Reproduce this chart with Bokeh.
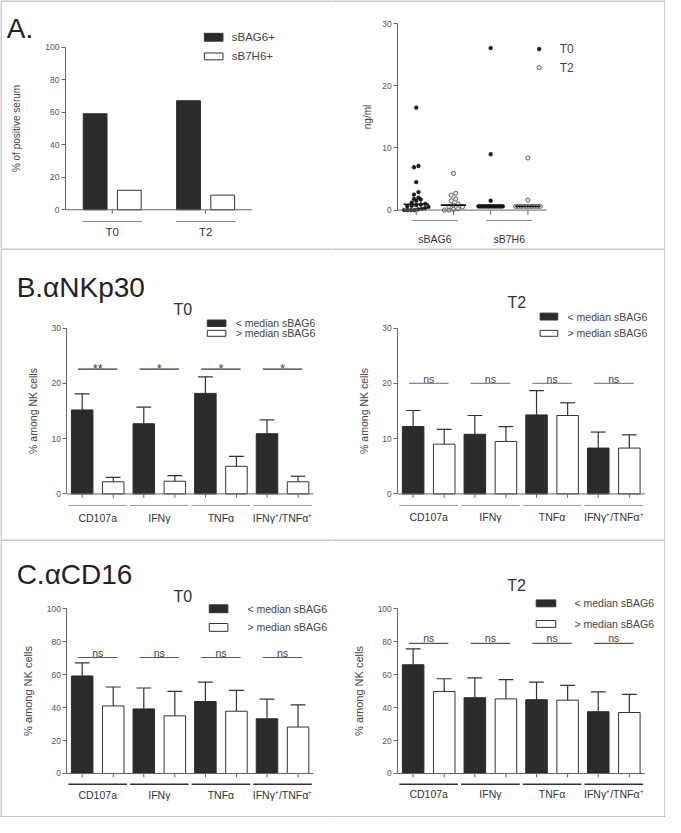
from bokeh.plotting import figure
from bokeh.layouts import column, row
from bokeh.models import Range1d, FixedTicker
from bokeh.core.properties import value
from bokeh.embed import file_html
from bokeh.resources import INLINE
import numpy as np

FONT = "Liberation Sans"
DARK = "#2b2b2b"
AX = "#666666"

# ---------------- data ----------------
a_groups = ["T0", "T2"]
a_series = ["sBAG6+", "sB7H6+"]
a_sbag6_pos = [59, 67]
a_sb7h6_pos = [12, 9]

sc_groups = ["sBAG6", "sB7H6"]
sc_series = ["T0", "T2"]
sbag6_t0 = [16.5, 7.1, 6.9, 4.5, 2.9, 2.5, 2.0, 1.8, 1.7, 1.5, 1.2, 1.0,
            0.9, 0.8, 0.7, 0.6, 0.5, 0.3, 0.2, 0.1, 0.0, 0.0, 0.0, 0.0]
sbag6_t2 = [5.9, 2.7, 2.4, 1.8, 1.5, 1.0, 0.8, 0.6, 0.5, 0.2, 0.1, 0.0, 0.0]
sb7h6_t0 = [26.1, 9.0, 1.5, 0.6, 0.6, 0.6, 0.6, 0.6, 0.6, 0.6, 0.6, 0.6, 0.6,
            0.6, 0.6, 0.6, 0.6, 0.6, 0.6, 0.6, 0.6, 0.6, 0.6, 0.6]
sb7h6_t2 = [8.4, 1.6, 0.6, 0.6, 0.6, 0.6, 0.6, 0.6, 0.6, 0.6, 0.6, 0.6]

markers = ["CD107a", "IFNγ", "TNFα", "IFNγ⁺/TNFα⁺"]
bar_series = ["< median sBAG6", "> median sBAG6"]

nkp30_t0_low = [15.2, 12.7, 18.2, 10.9]
nkp30_t0_low_sem = [2.9, 3.0, 3.0, 2.5]
nkp30_t0_high = [2.2, 2.3, 5.0, 2.2]
nkp30_t0_high_sem = [0.8, 1.0, 1.8, 1.0]
nkp30_t0_sig = ["**", "*", "*", "*"]

nkp30_t2_low = [12.2, 10.8, 14.3, 8.3]
nkp30_t2_low_sem = [2.9, 3.4, 4.4, 2.9]
nkp30_t2_high = [9.0, 9.5, 14.2, 8.3]
nkp30_t2_high_sem = [2.7, 2.7, 2.3, 2.4]
nkp30_t2_sig = ["ns", "ns", "ns", "ns"]

cd16_t0_low = [59.2, 39.2, 43.7, 33.2]
cd16_t0_low_sem = [8.0, 12.7, 11.8, 11.9]
cd16_t0_high = [41.0, 35.0, 37.8, 28.2]
cd16_t0_high_sem = [11.5, 14.9, 12.7, 13.4]
cd16_t0_sig = ["ns", "ns", "ns", "ns"]

cd16_t2_low = [66.0, 46.0, 44.8, 37.5]
cd16_t2_low_sem = [9.7, 12.0, 10.7, 12.0]
cd16_t2_high = [49.8, 45.3, 44.5, 37.0]
cd16_t2_high_sem = [7.7, 11.7, 9.0, 11.0]
cd16_t2_sig = ["ns", "ns", "ns", "ns"]


# ---------------- helpers ----------------
def lin(a, b):
    (va, pa), (vb, pb) = a, b
    k = (vb - va) / (pb - pa)
    return lambda q: va + (q - pa) * k


def make_fig(w, h, ext_x, ext_y, xa, xb, ya, yb, axis_x, ybounds, yticks,
             ylabel, ylabel_size, standoff):
    fx = lin(xa, xb)
    fy = lin(ya, yb)
    p = figure(width=w, height=h,
               x_range=Range1d(fx(ext_x[0]), fx(ext_x[1])),
               y_range=Range1d(fy(ext_y[1]), fy(ext_y[0])),
               output_backend="svg", toolbar_location=None,
               x_axis_location=None, y_axis_location="left",
               min_border=0)
    p.min_border_left = p.min_border_right = 0
    p.min_border_top = p.min_border_bottom = 0
    p.outline_line_color = None
    p.grid.visible = False
    p.background_fill_color = "white"
    p.border_fill_color = "white"
    ax = p.yaxis[0]
    ax.fixed_location = axis_x
    ax.bounds = ybounds
    ax.ticker = FixedTicker(ticks=yticks)
    ax.minor_tick_line_color = None
    ax.major_tick_in = 0
    ax.major_tick_out = 4
    ax.axis_line_color = AX
    ax.major_tick_line_color = AX
    ax.major_label_text_font = FONT
    ax.major_label_text_font_size = "8.5px"
    ax.major_label_text_color = "#555555"
    ax.major_label_standoff = 2
    ax.axis_label = ylabel
    ax.axis_label_text_font = FONT
    ax.axis_label_text_font_size = ylabel_size
    ax.axis_label_text_font_style = "normal"
    ax.axis_label_text_color = "#444444"
    ax.axis_label_standoff = standoff
    scale_x = (ext_x[1] - ext_x[0]) / w
    scale_y = (ext_y[1] - ext_y[0]) / h
    geo = dict(fx=fx, fy=fy, ext_x=ext_x, ext_y=ext_y, sx=scale_x, sy=scale_y)
    return p, geo


def borders(p, g, sides):
    fx, fy, ex, ey = g["fx"], g["fy"], g["ext_x"], g["ext_y"]
    X0, X1 = fx(ex[0]), fx(ex[1])
    Yb, Yt = fy(ey[1]), fy(ey[0])
    L = fx(ex[0] + 0.5 * g["sx"])
    R = fx(ex[1] - 0.5 * g["sx"])
    T = fy(ey[0] + 0.5 * g["sy"])
    B = fy(ey[1] - 0.5 * g["sy"])
    x0, y0, x1, y1 = [], [], [], []
    if "top" in sides:
        x0 += [X0]; x1 += [X1]; y0 += [T]; y1 += [T]
    if "bottom" in sides:
        x0 += [X0]; x1 += [X1]; y0 += [B]; y1 += [B]
    if "left" in sides:
        x0 += [L]; x1 += [L]; y0 += [Yb]; y1 += [Yt]
    if "right" in sides:
        x0 += [R]; x1 += [R]; y0 += [Yb]; y1 += [Yt]
    p.segment(x0=x0, y0=y0, x1=x1, y1=y1, line_color="#b4b4b4", line_width=1.3)


def txt(p, xs, ys, texts, size, color="#333333", align="center",
        baseline="middle"):
    p.text(x=xs, y=ys, text=texts, text_font=value(FONT),
           text_font_size=size, text_color=color, text_align=align,
           text_baseline=baseline)


def x_baseline(p, g, x_lo, x_hi, tick_xs, tick_px=4.0):
    fy = g["fy"]
    dy = fy(0) - fy(tick_px)  # data per px (positive)
    p.segment(x0=[x_lo], y0=[0], x1=[x_hi], y1=[0], line_color=AX, line_width=1)
    p.segment(x0=list(tick_xs), y0=[0] * len(tick_xs), x1=list(tick_xs),
              y1=[-dy] * len(tick_xs), line_color=AX, line_width=1)


def group_labels(p, g, centers, half, labels, line_py, text_py, size,
                 line_color="#888888", lw=1.0, text_color="#333333"):
    fy = g["fy"]
    yl = fy(line_py)
    p.segment(x0=[c - half for c in centers], y0=[yl] * len(centers),
              x1=[c + half for c in centers], y1=[yl] * len(centers),
              line_color=line_color, line_width=lw)
    txt(p, list(centers), [fy(text_py)] * len(centers), labels, size,
        color=text_color)


def legend_boxes(p, g, x0, x1, rows, text_x, labels, size, fills):
    fx, fy = g["fx"], g["fy"]
    for (top_py, bot_py), lab, fc in zip(rows, labels, fills):
        p.quad(left=[fx(x0)], right=[fx(x1)], top=[fy(top_py)],
               bottom=[fy(bot_py)], fill_color=fc, line_color="#333333",
               line_width=1)
        txt(p, [fx(text_x)], [fy((top_py + bot_py) / 2)], [lab], size,
            color="#444444", align="left")


# ---------------- panel A left: % positive ----------------
W_L, W_R = 332, 333
H_A, H_B, H_C = 248, 291, 278

pA1, gA1 = make_fig(W_L, H_A, (0.5, 340), (0.5, 253.5), (-0.5, 67), (1.5, 258),
                    (0, 214), (100, 48), -0.5, (0, 100), [0, 20, 40, 60, 80, 100],
                    "% of positive serum", "10px", 20)
ia = np.arange(len(a_groups))
pA1.vbar(x=ia - 0.183, top=a_sbag6_pos, width=0.255, bottom=0,
         fill_color=DARK, line_color=DARK)
pA1.vbar(x=ia + 0.183, top=a_sb7h6_pos, width=0.255, bottom=0,
         fill_color="white", line_color="#333333", line_width=1)
x_baseline(pA1, gA1, -0.5, len(a_groups) - 0.5, ia)
group_labels(pA1, gA1, ia, 0.32, a_groups, 226, 237, "11.5px")
legend_boxes(pA1, gA1, 209, 228, [(34, 42), (54, 61)], 237, a_series, "11.5px",
             [DARK, "white"])
txt(pA1, [gA1["fx"](7)], [gA1["fy"](29.5)], ["A."], "28px", color="#222222",
    align="left", baseline="alphabetic")
borders(pA1, gA1, ["top", "left"])

# ---------------- panel A right: ng/ml scatter ----------------
pA2, gA2 = make_fig(W_R, H_A, (340, 680), (0.5, 253.5), (-0.5, 406.5), (3.5, 558.5),
                    (0, 214.3), (30, 24.3), -0.5, (0, 30), [0, 10, 20, 30],
                    "ng/ml", "10px", 6)

px_y = 190.0 / 30.0  # reference px per ng/ml
px_x = 38.0          # reference px per column


def swarm(vals, spacing=4.6, maxw=25.0, tol_px=3.5):
    vs = sorted(vals)
    rows, cur = [], []
    for v in vs:
        if cur and (v - cur[0]) * px_y > tol_px:
            rows.append(cur)
            cur = []
        cur.append(v)
    if cur:
        rows.append(cur)
    out_v, out_o = [], []
    for r in rows:
        n = len(r)
        sp = spacing if n <= 1 else min(spacing, maxw / (n - 1))
        for k, v in enumerate(r):
            out_v.append(v)
            out_o.append((k - (n - 1) / 2) * sp / px_x)
    return out_v, out_o


BLACK_PT = dict(size=3.8, fill_color="#1a1a1a", line_color="#1a1a1a", line_width=0.5)
GRAY_PT = dict(size=4.2, fill_color="#e8e8e8", line_color="#555555", line_width=0.9)

cols = [sbag6_t0, sbag6_t2, sb7h6_t0, sb7h6_t2]
for ci, vals in enumerate(cols):
    vv, oo = swarm(vals)
    xs = [ci + o for o in oo]
    style = BLACK_PT if ci % 2 == 0 else GRAY_PT
    pA2.scatter(x=xs, y=vv, **style)
    med = float(np.median(vals))
    pA2.segment(x0=[ci - 0.34], y0=[med], x1=[ci + 0.34], y1=[med],
                line_color="#111111", line_width=1.6)

x_baseline(pA2, gA2, -0.5, len(cols) - 0.5, np.arange(len(cols)), tick_px=5)
group_labels(pA2, gA2, [0.5, 2.5], 0.62, sc_groups, 225, 244, "10.5px")
fxA2, fyA2 = gA2["fx"], gA2["fy"]
pA2.scatter(x=[fxA2(551)], y=[fyA2(50)], **BLACK_PT)
pA2.scatter(x=[fxA2(551)], y=[fyA2(69)], **GRAY_PT)
txt(pA2, [fxA2(572), fxA2(572)], [fyA2(50), fyA2(69)], sc_series, "12px",
    color="#444444", align="left")
borders(pA2, gA2, ["top", "right"])


# ---------------- bar panels B / C ----------------
def bar_panel(w, h, ext_x, ext_y, xa, xb, ya, yb, ymax, yticks, ylabel_size,
              low, low_sem, high, high_sem, sig, sig_y, sig_gap_px, sig_size,
              sig_color, panel_label, label_pos, subtitle, sub_pos,
              leg_x0, leg_x1, leg_rows, leg_tx, glines_py, gtext_py,
              gline_color, gline_w, sides):
    p, g = make_fig(w, h, ext_x, ext_y, xa, xb, ya, yb, -0.5, (0, ymax), yticks,
                    "% among NK cells", ylabel_size, 9)
    fx, fy = g["fx"], g["fy"]
    idx = np.arange(len(markers))
    xl = idx - 0.252
    xh = idx + 0.252
    bw = 0.349
    cap = 0.12
    p.vbar(x=xl, top=low, width=bw, bottom=0, fill_color=DARK, line_color=DARK)
    p.vbar(x=xh, top=high, width=bw, bottom=0, fill_color="white",
           line_color="#333333", line_width=1)
    for xs, top, sem in ((xl, low, low_sem), (xh, high, high_sem)):
        up = [t + s for t, s in zip(top, sem)]
        p.segment(x0=list(xs), y0=list(top), x1=list(xs), y1=up,
                  line_color="#333333", line_width=1.2)
        p.segment(x0=list(xs - cap), y0=up, x1=list(xs + cap), y1=up,
                  line_color="#333333", line_width=1.2)
    x_baseline(p, g, -0.5, len(markers) - 0.5, list(xl) + list(xh))
    # significance
    p.segment(x0=list(idx - 0.32), y0=[sig_y] * len(idx), x1=list(idx + 0.32),
              y1=[sig_y] * len(idx), line_color=sig_color, line_width=1.2)
    dy = fy(0) - fy(sig_gap_px)
    txt(p, list(idx), [sig_y + dy] * len(idx), sig, sig_size, color="#444444",
        baseline="alphabetic")
    group_labels(p, g, idx, 0.475, markers, glines_py, gtext_py, "10.5px",
                 line_color=gline_color, lw=gline_w)
    legend_boxes(p, g, leg_x0, leg_x1, leg_rows, leg_tx, bar_series, "10.5px",
                 [DARK, "white"])
    if panel_label:
        txt(p, [fx(label_pos[0])], [fy(label_pos[1])], [panel_label], "28px",
            color="#222222", align="left", baseline="alphabetic")
    txt(p, [fx(sub_pos[0])], [fy(sub_pos[1])], [subtitle], "16px",
        color="#333333", baseline="alphabetic")
    borders(p, g, sides)
    return p


pB1 = bar_panel(W_L, H_B, (0.5, 340), (253.5, 548.5), (-0.5, 68.4), (3.5, 320.4),
                (0, 502.3), (30, 334.3), 30, [0, 10, 20, 30], "10.5px",
                nkp30_t0_low, nkp30_t0_low_sem, nkp30_t0_high, nkp30_t0_high_sem,
                nkp30_t0_sig, 22.6, 1.0, "13px", "#333333",
                "B.αNKp30", (17, 292.7), "T0", (187, 315),
                212, 231, [(326, 332.5), (336.5, 342.5)], 241, 514, 527,
                "#999999", 1.0, ["top", "left"])

pB2 = bar_panel(W_R, H_B, (340, 680), (253.5, 548.5), (-0.5, 406.7), (3.5, 658.7),
                (0, 502.3), (30, 334.3), 30, [0, 10, 20, 30], "10.5px",
                nkp30_t2_low, nkp30_t2_low_sem, nkp30_t2_high, nkp30_t2_high_sem,
                nkp30_t2_sig, 20.0, 5.0, "10.5px", "#888888",
                None, None, "T2", (528.3, 308.3),
                552, 570, [(319, 326), (336.5, 342.5)], 580, 514, 526,
                "#999999", 1.0, ["top", "right"])

pC1 = bar_panel(W_L, H_C, (0.5, 340), (548.5, 831.5), (-0.5, 68.4), (3.5, 320.4),
                (0, 786.7), (100, 619), 100, [0, 20, 40, 60, 80, 100], "11px",
                cd16_t0_low, cd16_t0_low_sem, cd16_t0_high, cd16_t0_high_sem,
                cd16_t0_sig, 70.4, 5.0, "10.5px", "#555555",
                "C.αCD16", (17, 584.3), "T0", (187, 606.7),
                214, 233, [(615, 623), (634, 642)], 253, 797.7, 809,
                "#333333", 1.4, ["top", "left", "bottom"])

pC2 = bar_panel(W_R, H_C, (340, 680), (548.5, 831.5), (-0.5, 406.7), (3.5, 658.7),
                (0, 786.7), (100, 619), 100, [0, 20, 40, 60, 80, 100], "11px",
                cd16_t2_low, cd16_t2_low_sem, cd16_t2_high, cd16_t2_high_sem,
                cd16_t2_sig, 79.0, 5.0, "10.5px", "#555555",
                None, None, "T2", (528, 595),
                548, 568, [(610, 617), (631, 638)], 587, 797.7, 808,
                "#333333", 1.4, ["top", "right", "bottom"])

layout = column(row(pA1, pA2), row(pB1, pB2), row(pC1, pC2))
open("out.html", "w").write(file_html(layout, INLINE))
